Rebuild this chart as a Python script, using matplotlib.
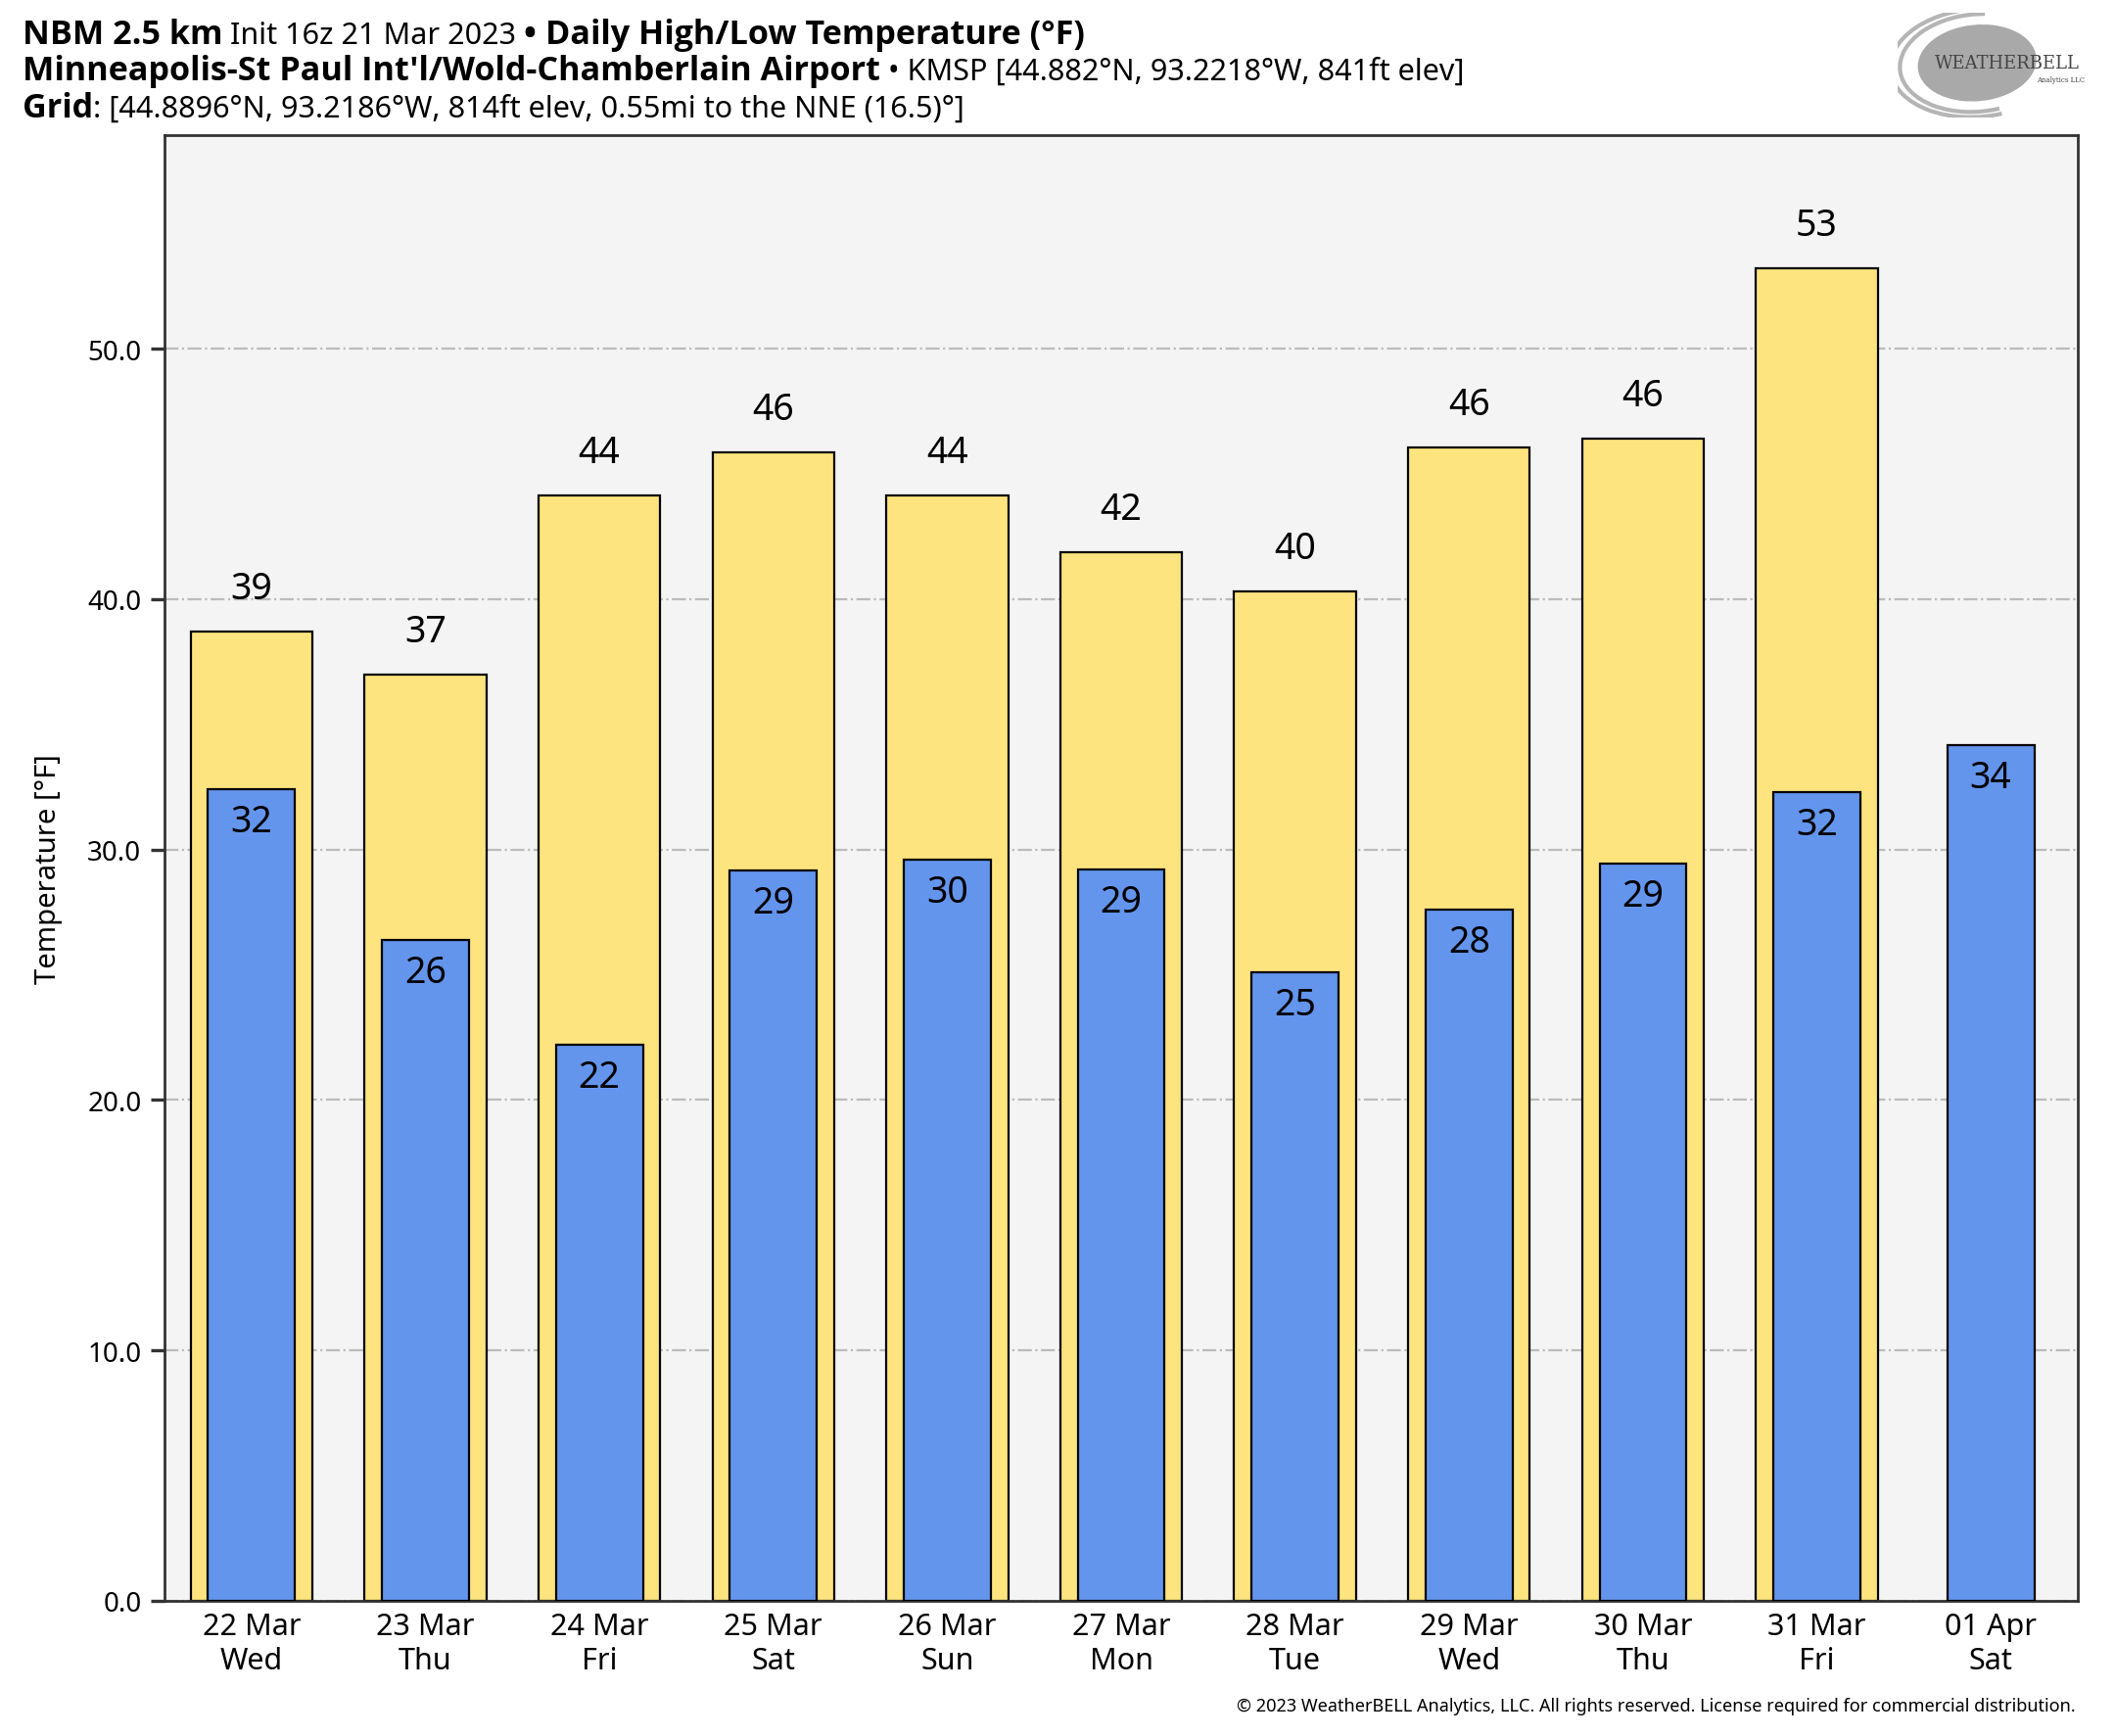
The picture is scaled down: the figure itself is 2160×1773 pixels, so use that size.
import matplotlib
matplotlib.use("Agg")
import matplotlib.pyplot as plt
from matplotlib.patches import Ellipse, Arc
import numpy as np

plt.rcParams['font.family'] = ['Noto Sans', 'DejaVu Sans']

# Données
dates = ["22 Mar\nWed", "23 Mar\nThu", "24 Mar\nFri", "25 Mar\nSat", "26 Mar\nSun",
         "27 Mar\nMon", "28 Mar\nTue", "29 Mar\nWed", "30 Mar\nThu", "31 Mar\nFri",
         "01 Apr\nSat"]
highs = [38.7, 37.0, 44.15, 45.85, 44.15, 41.85, 40.3, 46.05, 46.4, 53.2]
lows = [32.4, 26.4, 22.2, 29.15, 29.6, 29.2, 25.1, 27.6, 29.45, 32.3, 34.15]

fig = plt.figure(figsize=(10.8, 8.87), dpi=200)
ax = fig.add_axes([0.0778, 0.0778, 0.9046, 0.8438])
ax.set_facecolor("#f4f4f4")

x = np.arange(len(dates))
xh = x[:len(highs)]

ax.bar(xh, highs, width=0.7, color="#fde47f", edgecolor="black", linewidth=0.8, zorder=2)
ax.bar(x, lows, width=0.5, color="#6495ed", edgecolor="black", linewidth=0.8, zorder=3)

for xi, v in zip(xh, highs):
    ax.annotate(f"{v:.0f}", (xi, v), xytext=(0, 9), textcoords="offset points",
                ha="center", va="bottom", fontsize=13.5)
for xi, v in zip(x, lows):
    ax.annotate(f"{v:.0f}", (xi, v), xytext=(0, -5), textcoords="offset points",
                ha="center", va="top", fontsize=13.5, zorder=4)

ax.set_xlim(-0.5, len(dates) - 0.5)
ax.set_ylim(0, max(highs) * 1.1)
ax.set_yticks(np.arange(0, 51, 10))
ax.set_yticklabels([f"{t:.1f}" for t in np.arange(0, 51, 10)])
ax.set_xticks(x)
ax.set_xticklabels(dates, fontsize=11, linespacing=1.2)
ax.tick_params(axis="x", length=0, pad=4)
ax.tick_params(axis="y", labelsize=10, length=5, width=1.2, color="#333333")
ax.yaxis.grid(True, linestyle="-.", color="#bbbbbb", linewidth=0.8, zorder=0)
ax.set_axisbelow(True)
for s in ax.spines.values():
    s.set_color("#333333")
    s.set_linewidth(1.0)
ax.set_ylabel("Temperature [°F]", fontsize=10.5)
ax.yaxis.set_label_coords(-0.0532, 0.5)


# Titre en morceaux (gras / normal)
def ligne(y, morceaux, x0=0.0105):
    r = fig.canvas.get_renderer()
    xx = x0
    for txt, w in morceaux:
        if w == "bold":
            t = fig.text(xx, y, txt, fontsize=12.3, fontweight="bold",
                         family=["Open Sans", "DejaVu Sans"], va="baseline", ha="left")
        else:
            t = fig.text(xx, y, txt, fontsize=11, va="baseline", ha="left")
        bb = t.get_window_extent(renderer=r)
        xx += bb.width / fig.bbox.width


ligne(0.9745, [("NBM 2.5 km", "bold"), (" Init 16z 21 Mar 2023 ", "normal"),
               ("• ", "bold"), ("Daily High/Low Temperature (°F)", "bold")])
ligne(0.954, [("Minneapolis-St Paul Int'l/Wold-Chamberlain Airport", "bold"),
              (" • KMSP [44.882°N, 93.2218°W, 841ft elev]", "normal")])
ligne(0.9325, [("Grid", "bold"), (": [44.8896°N, 93.2186°W, 814ft elev, 0.55mi to the NNE (16.5)°]", "normal")])

# Logo approximatif
lax = fig.add_axes([0.897, 0.932, 0.09, 0.06])
lax.set_xlim(0, 1)
lax.set_ylim(0, 1)
lax.axis("off")
lax.add_patch(Ellipse((0.42, 0.52), 0.6, 0.72, angle=-15, color="#a9a9a9"))
for w, h in [(0.8, 0.95), (0.9, 1.05)]:
    lax.add_patch(Arc((0.42, 0.52), w, h, angle=-15, theta1=100, theta2=300, color="#b5b5b5", lw=1.5))
lax.text(0.58, 0.52, "WEATHERBELL", fontsize=6.5, family="DejaVu Serif", color="#444444",
         ha="center", va="center")
lax.text(0.86, 0.36, "Analytics LLC", fontsize=2.5, family="DejaVu Serif", color="#444444",
         ha="center", va="center")

fig.text(0.9815, 0.0147, "© 2023 WeatherBELL Analytics, LLC. All rights reserved. License required for commercial distribution.",
         fontsize=6.5, ha="right", va="baseline")

fig.savefig("out.png", dpi=200, facecolor="white")
